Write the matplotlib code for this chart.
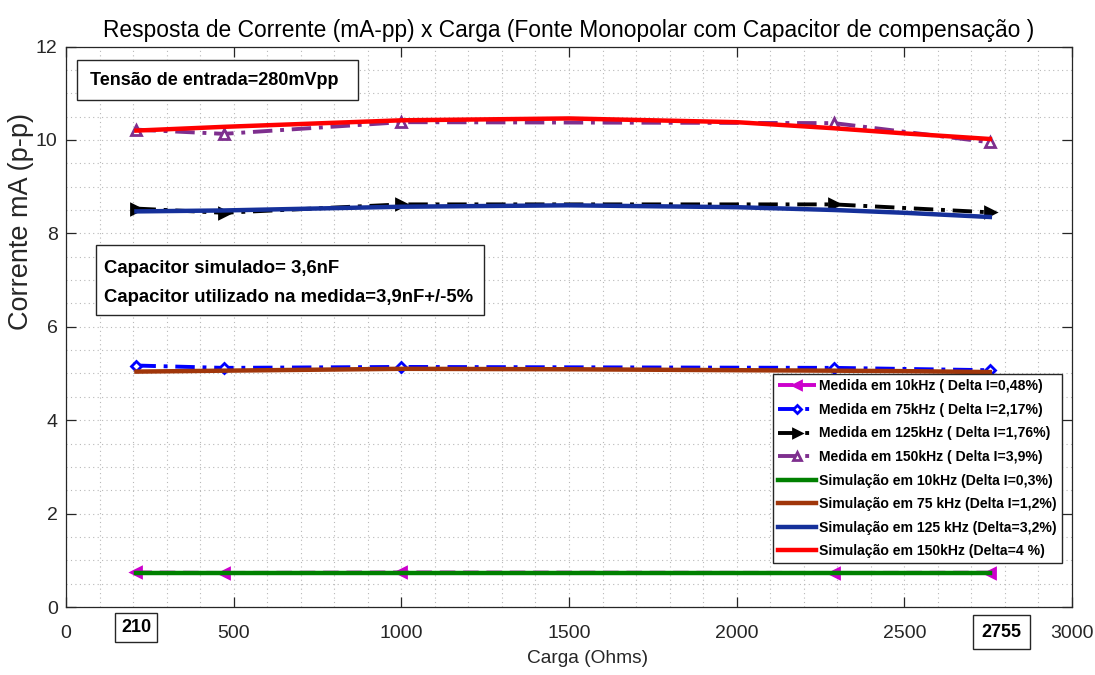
import matplotlib
matplotlib.use("Agg")
import matplotlib.pyplot as plt
from matplotlib.patches import Rectangle
from matplotlib.ticker import MultipleLocator

# ---- data -------------------------------------------------------------
carga_medida = [210, 470, 1000, 2290, 2755]
med_10k = [0.74, 0.73, 0.74, 0.73, 0.735]
med_75k = [5.17, 5.12, 5.14, 5.12, 5.07]
med_125k = [8.53, 8.44, 8.62, 8.62, 8.45]
med_150k = [10.22, 10.13, 10.38, 10.36, 9.95]

carga_sim = [210, 470, 1000, 1500, 2000, 2290, 2500, 2755]
sim_10k = [0.72, 0.72, 0.72, 0.72, 0.72, 0.72, 0.72, 0.72]
sim_75k = [5.04, 5.06, 5.10, 5.09, 5.07, 5.06, 5.05, 5.03]
sim_125k = [8.47, 8.49, 8.57, 8.60, 8.56, 8.50, 8.44, 8.35]
sim_150k = [10.20, 10.28, 10.42, 10.46, 10.38, 10.25, 10.14, 10.02]

rotulos_med = ["Medida em 10kHz ( Delta I=0,48%)",
               "Medida em 75kHz ( Delta I=2,17%)",
               "Medida em 125kHz ( Delta I=1,76%)",
               "Medida em 150kHz ( Delta I=3,9%)"]
rotulos_sim = ["Simulação em 10kHz (Delta I=0,3%)",
               "Simulação em 75 kHz (Delta I=1,2%)",
               "Simulação em 125 kHz (Delta=3,2%)",
               "Simulação em 150kHz (Delta=4 %)"]

x_ticks = [0, 500, 1000, 1500, 2000, 2500, 3000]
y_ticks = [0, 2, 4, 6, 8, 10, 12]
cargas_limite = [210, 2755]

titulo = "Resposta de Corrente (mA-pp) x Carga (Fonte Monopolar com Capacitor de compensação )"
texto_tensao = "Tensão de entrada=280mVpp"
texto_capacitor = ["Capacitor simulado= 3,6nF",
                   "Capacitor utilizado na medida=3,9nF+/-5%"]

FONTE = "Liberation Sans"
plt.rcParams["font.family"] = [FONTE, "DejaVu Sans"]

# ---- figure -------------------------------------------------------------
fig = plt.figure(figsize=(10.95, 6.75), dpi=100)
ax = fig.add_axes([0.0603, 0.1007, 0.9187, 0.8304])

cor_eixo = "#262626"
estilo_med = [
    dict(color="#CC00CC", marker="<", mfc="#CC00CC", dashes=(4, 2)),
    dict(color="#0000FF", marker="D", mfc="white", ms=5, dashes=(5, 2, 1, 2)),
    dict(color="#000000", marker=">", mfc="#000000", dashes=(5, 2, 1, 2)),
    dict(color="#7E2F8E", marker="^", mfc="white", dashes=(5, 2, 1, 2)),
]
cores_sim = ["#008000", "#A0360A", "#15309A", "#FF0000"]

handles = []
for ys, st, lab in zip([med_10k, med_75k, med_125k, med_150k], estilo_med, rotulos_med):
    kw = dict(lw=2.8, ms=7, mew=2)
    kw.update(st)
    h, = ax.plot(carga_medida, ys, label=lab, zorder=3, **kw)
    handles.append(h)
for ys, c, lab in zip([sim_10k, sim_75k, sim_125k, sim_150k], cores_sim, rotulos_sim):
    h, = ax.plot(carga_sim, ys, color=c, lw=3.2, label=lab, zorder=4)
    handles.append(h)

ax.set_xlim(0, 3000)
ax.set_ylim(0, 12)
ax.set_xticks(x_ticks)
ax.set_yticks(y_ticks)
ax.xaxis.set_minor_locator(MultipleLocator(100))
ax.yaxis.set_minor_locator(MultipleLocator(0.5))
ax.grid(True, which="both", color="#b8b8b8", ls=(0, (1, 3)), lw=0.8)
ax.tick_params(which="major", direction="in", length=7, width=0.9, color=cor_eixo,
               top=True, right=True, labelsize=14, labelcolor=cor_eixo)
ax.tick_params(axis="x", which="major", pad=13)
ax.tick_params(axis="y", which="major", pad=6)
ax.tick_params(which="minor", length=0)
for s in ax.spines.values():
    s.set_color(cor_eixo)
    s.set_linewidth(0.9)

ax.set_title(titulo, fontsize=16.4, color="black", pad=7)
ax.set_xlabel("Carga (Ohms)", fontsize=13.8, color=cor_eixo)
ax.xaxis.set_label_coords(0.518, -0.076)
ax.set_ylabel("Corrente mA (p-p)", fontsize=19.5, color=cor_eixo)
ax.yaxis.set_label_coords(-0.032, 0.687)

# boxed limit values under the x axis
for val, dx, dy, pad in zip(cargas_limite, [0, 8.6], [-14.5, -18], [0.33, 0.48]):
    ax.annotate(str(val), xy=(val, 0), xycoords=("data", "axes fraction"),
                xytext=(dx, dy), textcoords="offset points", ha="center", va="center",
                fontsize=13, fontweight="bold",
                bbox=dict(boxstyle=f"square,pad={pad}", fc="white", ec=cor_eixo, lw=1))

# annotation boxes
ax.add_patch(Rectangle((0.011, 0.905), 0.279, 0.071, transform=ax.transAxes,
                       fc="white", ec=cor_eixo, lw=1.0, zorder=5))
ax.text(0.0239, 0.940, texto_tensao, transform=ax.transAxes, fontsize=13.0,
        fontweight="bold", va="center", ha="left", zorder=6)

ax.add_patch(Rectangle((0.0298, 0.521), 0.3857, 0.125, transform=ax.transAxes,
                       fc="white", ec=cor_eixo, lw=1.0, zorder=5))
for t, yy in zip(texto_capacitor, [0.604, 0.552]):
    ax.text(0.0378, yy, t, transform=ax.transAxes, fontsize=13.3,
            fontweight="bold", va="center", ha="left", zorder=6)

leg = ax.legend(handles=handles, loc="lower right", bbox_to_anchor=(0.990, 0.0785),
                borderaxespad=0, fancybox=False, framealpha=1, edgecolor=cor_eixo,
                prop=dict(weight="bold", size=10.1),
                handlelength=2.7, handletextpad=0.25, labelspacing=0.68,
                borderpad=0.35, markerscale=0.85)
leg.get_frame().set_linewidth(1.0)
leg.set_zorder(7)

fig.savefig("out.png", dpi=100, facecolor="white")
